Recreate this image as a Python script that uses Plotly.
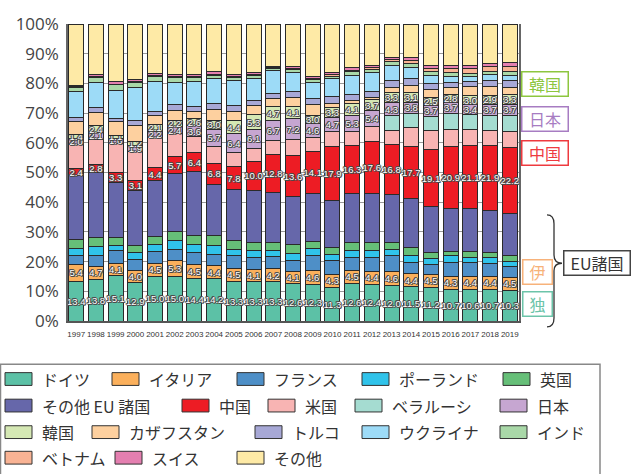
import plotly.graph_objects as go

years = [str(y) for y in range(1997, 2020)]

DE = [13.4,13.8,15.1,12.9,15.0,15.0,14.4,14.2,13.3,13.3,13.3,12.6,12.3,11.3,12.6,12.4,12.0,11.5,11.2,10.7,10.6,10.7,10.3]
IT = [5.4,4.7,4.1,4.0,4.5,5.3,4.5,4.4,4.5,4.1,4.2,4.1,4.6,4.3,4.5,4.4,4.6,4.4,4.5,4.3,4.4,4.4,4.5]
FR = [3.1,3.7,4.3,3.9,4.0,3.8,4.0,3.8,4.3,4.1,4.1,3.5,5.0,4.6,4.2,4.4,5.3,3.7,3.4,4.6,4.6,4.2,3.7]
PL = [2.5,2.7,1.9,2.2,2.2,3.1,2.8,3.1,2.0,2.3,2.0,2.5,2.5,2.2,2.4,2.4,2.2,2.6,2.0,2.3,1.9,2.0,1.7]
UK = [3.0,3.2,2.5,2.5,2.8,2.9,3.0,3.3,3.1,2.8,2.9,2.8,2.2,2.2,2.6,2.9,2.5,2.4,1.8,1.6,1.8,1.6,1.7]
EU = [21.2,21.8,18.6,18.5,18.7,19.6,21.5,17.3,17.0,17.3,16.5,16.2,16.2,16.0,16.5,16.2,15.9,16.6,15.5,14.4,14.6,14.4,14.3]
CN = [2.4,2.8,3.3,3.1,4.4,5.7,6.4,6.8,7.8,10.0,12.8,13.6,14.1,17.9,16.3,17.6,16.8,17.7,19.1,20.9,21.1,21.9,22.2]
US = [8.0,8.5,9.8,10.0,10.1,7.7,5.4,6.0,4.6,4.4,4.8,5.4,4.7,5.3,4.7,5.0,4.9,6.3,6.5,5.5,5.6,5.1,5.3]
BY = [0,0,0,0,0,0,0,0,0,0,0,0,0,0,0,0,5.0,4.7,4.8,5.5,4.8,5.0,5.5]
JP = [2.0,2.1,1.6,1.9,2.2,2.4,3.6,5.7,6.4,6.1,6.7,7.2,4.6,4.7,5.3,5.4,4.3,3.8,3.7,3.7,3.4,3.7,3.7]
KR = [1.4,2.4,1.1,1.2,2.1,2.2,2.6,3.0,4.4,5.3,4.7,4.1,3.0,3.3,4.1,3.7,3.3,3.1,2.5,2.8,3.0,2.9,3.3]
KZ = [4.3,4.5,4.5,5.5,3.0,3.3,2.2,3.6,3.3,2.9,2.6,2.8,3.4,1.4,0.9,0.8,1.9,2.6,2.8,2.3,3.1,3.0,2.5]
TR = [1.6,1.6,1.1,1.6,1.6,1.9,1.9,2.0,1.9,1.7,1.9,2.2,2.2,2.2,2.2,2.0,2.4,2.4,2.0,1.7,1.8,2.2,2.2]
UA = [8.5,8.5,9.2,11.0,9.8,7.6,8.4,8.6,8.5,7.5,7.6,6.4,5.5,6.1,6.5,6.3,5.0,3.5,2.7,1.9,1.5,1.8,1.6]
IN = [1.4,1.6,2.0,2.0,1.8,1.7,1.2,1.0,0.9,0.9,0.6,0.8,0.8,0.8,1.2,1.1,1.2,1.5,1.2,1.3,1.3,1.2,1.5]
VN = [0.2,0.3,0.3,0.3,0.3,0.3,0.3,0.3,0.3,0.3,0.3,0.4,0.4,0.4,0.5,0.5,0.6,0.8,1.2,1.3,1.4,1.5,1.8]
CH = [0.6,0.7,0.7,0.7,0.8,0.8,0.8,0.8,0.8,0.8,0.6,0.6,0.8,0.8,0.8,0.9,0.9,1.0,1.0,1.0,1.0,1.0,1.2]
OT = [20.5,17.0,19.4,18.5,16.6,16.9,16.9,16.1,16.9,16.3,14.1,14.3,17.5,16.3,14.7,13.8,11.2,11.4,13.9,14.1,14.1,13.4,13.0]

series = [
    ("ドイツ", DE, "#5cc1a6", True),
    ("イタリア", IT, "#fbb05c", True),
    ("フランス", FR, "#4e8fc7", False),
    ("ポーランド", PL, "#30c3ea", False),
    ("英国", UK, "#66bf78", False),
    ("その他 EU 諸国", EU, "#6667aa", False),
    ("中国", CN, "#ed1c24", True),
    ("米国", US, "#f8b4b3", False),
    ("ベラルーシ", BY, "#a5dcd1", False),
    ("日本", JP, "#c6a6d1", True),
    ("韓国", KR, "#d5e8b4", True),
    ("カザフスタン", KZ, "#fdd09f", False),
    ("トルコ", TR, "#a7a8d6", False),
    ("ウクライナ", UA, "#9ddbf7", False),
    ("インド", IN, "#a9d8a8", False),
    ("ベトナム", VN, "#f9b394", False),
    ("スイス", CH, "#e47fb0", False),
    ("その他", OT, "#feeaa6", False),
]

NARROW = "Liberation Sans Narrow, Liberation Sans, Arial, sans-serif"
JPF = "Noto Sans CJK JP, Noto Sans, sans-serif"
OUT = "#4a4a4a"
shadow = (f"{OUT} 1px 0px 0px, {OUT} -1px 0px 0px, {OUT} 0px 1px 0px, {OUT} 0px -1px 0px, "
          f"{OUT} 1px 1px 0px, {OUT} -1px -1px 0px")

fig = go.Figure()
for name, vals, col, lab in series:
    fig.add_trace(go.Bar(
        x=years, y=vals, name=name, marker=dict(color=col, line=dict(color="#2a2a2a", width=1)),
        text=[f"{v:.1f}" for v in vals] if lab else None,
        textposition="inside" if lab else "none",
        insidetextanchor="middle", textangle=0, constraintext="none",
        textfont=dict(family=NARROW, size=9.5, color="white", shadow=shadow),
        showlegend=False,
    ))

L, R, T, B = 68, 519, 19, 321
W, H = R - L, B - T
def px(x): return (x - L) / W
def py(y): return (B - y) / H

shapes = []
annotations = []

# right-hand boxes
boxes = [
    ("韓国", 545, 80.5, 48, "#8dc63f"),
    ("日本", 545, 115.5, 48, "#a77cc2"),
    ("中国", 545, 150.3, 48, "#ee3a3f"),
    ("伊", 537, 271.5, 31, "#f7b27a"),
    ("独", 537, 303.5, 31, "#6cc4a9"),
    ("EU諸国", 597, 262.3, 68, "#444444"),
]
for txt, cx, cy, w, c in boxes:
    annotations.append(dict(
        x=px(cx), y=py(cy), xref="paper", yref="paper", text=txt, showarrow=False,
        font=dict(family=JPF, size=16, color=c if txt != "EU諸国" else "#333"),
        bordercolor=c, borderwidth=1.5, borderpad=0, width=w - 3, height=23,
        bgcolor="white", xanchor="center", yanchor="middle"))

# brace
pts = "M {a},{b} Q {c},{b} {c},{d} L {c},{e} Q {c},{f} {g},{f} Q {c},{f} {c},{h} L {c},{i} Q {c},{j} {a},{j}"
brace = pts.format(a=px(547), b=py(213), c=px(554), d=py(222), e=py(254), f=py(262.3), g=px(562),
                   h=py(270), i=py(318), j=py(327))
shapes.append(dict(type="path", path=brace, xref="paper", yref="paper", line=dict(color="#333", width=1.3)))

# legend box
shapes.append(dict(type="rect", xref="paper", yref="paper", x0=px(0.5), x1=px(600), y0=py(365), y1=py(490),
                   line=dict(color="#888", width=1.5), fillcolor="rgba(0,0,0,0)"))

legend_pos = {
    "ドイツ": (5, 380), "イタリア": (112, 380), "フランス": (237, 380), "ポーランド": (362, 380), "英国": (503, 380),
    "その他 EU 諸国": (5, 407), "中国": (182, 407), "米国": (268, 407), "ベラルーシ": (355, 407), "日本": (500, 407),
    "韓国": (5, 434), "カザフスタン": (92, 434), "トルコ": (255, 434), "ウクライナ": (362, 434), "インド": (500, 434),
    "ベトナム": (5, 460), "スイス": (115, 460), "その他": (237, 460),
}
for name, vals, col, lab in series:
    x0, yc = legend_pos[name]
    shapes.append(dict(type="rect", xref="paper", yref="paper", x0=px(x0), x1=px(x0 + 27),
                       y0=py(yc - 6.5), y1=py(yc + 6.5), fillcolor=col, line=dict(color="#333", width=1)))
    annotations.append(dict(x=px(x0 + 35), y=py(yc), xref="paper", yref="paper", text=name, showarrow=False,
                            xanchor="left", yanchor="middle", font=dict(family=JPF, size=16, color="#333")))

fig.update_layout(
    barmode="stack", barnorm="percent", bargap=0.24,
    width=641, height=474, autosize=False,
    margin=dict(l=L, r=641 - R, t=T, b=474 - B, pad=0),
    plot_bgcolor="white", paper_bgcolor="white",
    shapes=shapes, annotations=annotations, showlegend=False,
    xaxis=dict(range=[-0.416, 22.467], showline=True, linecolor="#555", linewidth=1.5,
               tickfont=dict(family=NARROW, size=8, color="#333"), ticks="", tickangle=0,
               ticklabelstandoff=5, showgrid=False, fixedrange=True),
    yaxis=dict(range=[0, 100], dtick=10, ticksuffix="%", showline=True, mirror=True,
               linecolor="#666", linewidth=1.5, showgrid=True, gridcolor="#999", gridwidth=1,
               tickfont=dict(family="Open Sans, sans-serif", size=17, color="#444"),
               ticks="", ticklabelstandoff=4, zeroline=False),
)

fig.write_html("out.html")
